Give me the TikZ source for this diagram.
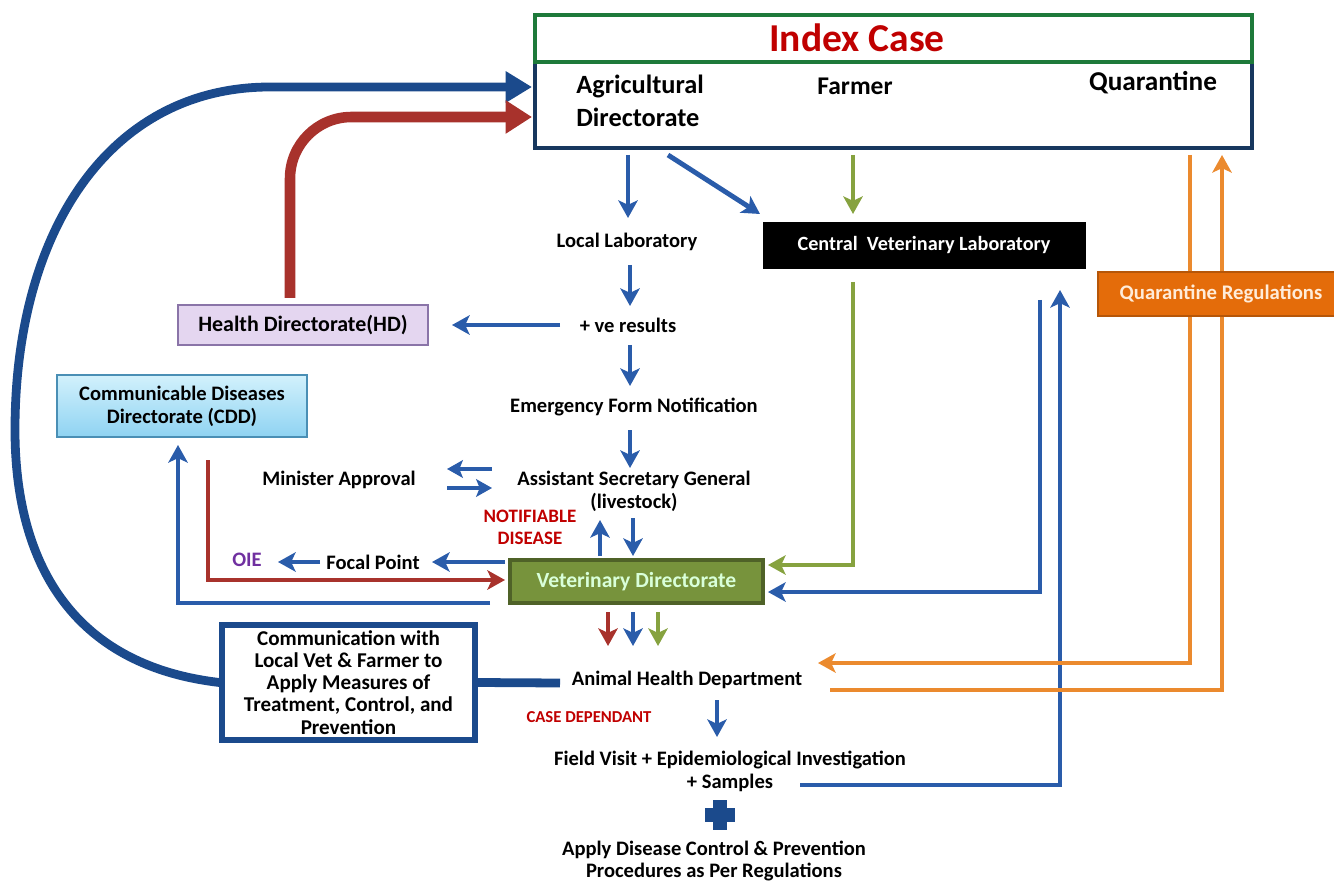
\documentclass[tikz,border=0pt]{standalone}
\usepackage{fontspec}
\setmainfont{Carlito}
\usetikzlibrary{arrows.meta}
\definecolor{cblue}{HTML}{2A5CAA}
\definecolor{cnavy}{HTML}{1B4A8C}
\definecolor{cred}{HTML}{A8322C}
\definecolor{tred}{HTML}{C00000}
\definecolor{cgreen}{HTML}{86A23F}
\definecolor{vdfill}{HTML}{77933C}
\definecolor{vddraw}{HTML}{4F6228}
\definecolor{corange}{HTML}{EB8A2E}
\definecolor{qrfill}{HTML}{E46C0A}
\definecolor{hdfill}{HTML}{E4D6F0}
\definecolor{hddraw}{HTML}{8A74A8}
\definecolor{cddtop}{HTML}{D2F1FC}
\definecolor{cddbot}{HTML}{8FD3F2}
\definecolor{cdddraw}{HTML}{4A8FB5}
\definecolor{idxgreen}{HTML}{1E7A3A}
\definecolor{idxnavy}{HTML}{17375E}
\definecolor{oiepurple}{HTML}{7030A0}
\begin{document}
\begin{tikzpicture}[x=0.02cm,y=-0.02cm,
  lbl/.style={font=\fontsize{11.7}{13}\selectfont\bfseries, align=center, inner sep=1pt},
  redlbl/.style={font=\fontsize{9.5}{12.5}\selectfont\bfseries, align=center, text=tred, inner sep=1pt},
  tip/.style={-{Stealth[length=10pt,width=11pt,inset=2.5pt]}},
  barr/.style={cblue, line width=2.8pt, tip},
  garr/.style={cgreen, line width=2.8pt, tip},
  rarr/.style={cred, line width=2.8pt, tip},
  oarr/.style={corange, line width=2.8pt, tip},
  boxlbl/.style={font=\fontsize{11.7}{13}\selectfont\bfseries, align=center, inner sep=2pt}
]
\useasboundingbox (0,0) rectangle (1334,881);

% ---------- Index case ----------
\node[draw=idxnavy, line width=2.5pt, fill=white, minimum width=14.34cm, minimum height=1.72cm, inner sep=0pt] (idx) at (893.5,105) {};
\node[draw=idxgreen, line width=2.5pt, fill=white, minimum width=14.34cm, minimum height=0.94cm, inner sep=0pt] (idxh) at (893.5,38.5) {};
\node[font=\fontsize{22.5}{24}\selectfont\bfseries, text=tred] (ic) at (857,38) {Index Case};
\node[font=\fontsize{15}{18.7}\selectfont\bfseries, align=left, anchor=west, inner sep=0pt] (agr) at (576,101) {Agricultural\\Directorate};
\node[font=\fontsize{14.5}{16}\selectfont\bfseries, inner sep=0pt] (farm) at (855,86) {Farmer};
\node[font=\fontsize{15.5}{16}\selectfont\bfseries, inner sep=0pt] (quar) at (1153,83) {Quarantine};

% ---------- Text labels ----------
\node[lbl] (ll) at (627,242) {Local Laboratory};
\node[lbl] (ve) at (628,325) {+ ve results};
\node[lbl] (efn) at (634,407) {Emergency Form Notification};
\node[lbl] (asg) at (634,491) {Assistant Secretary General\\(livestock)};
\node[lbl] (min) at (339,480) {Minister Approval};
\node[redlbl, font=\fontsize{10.8}{12.5}\selectfont\bfseries] (nd) at (530,527) {NOTIFIABLE\\DISEASE};
\node[lbl] (fp) at (373,562) {Focal Point};
\node[lbl, text=oiepurple] (oie) at (247,560) {OIE};
\node[lbl] (ahd) at (687,680) {Animal Health Department};
\node[redlbl] (cd) at (589,717) {CASE DEPENDANT};
\node[lbl] (fv) at (730,771) {Field Visit + Epidemiological Investigation\\+ Samples};
\node[lbl] (ap) at (714,861) {Apply Disease Control \& Prevention\\Procedures as Per Regulations};

% ---------- Boxes ----------
\node[draw=black, fill=black, text=white, font=\fontsize{11.5}{12}\selectfont\bfseries, minimum width=6.44cm, minimum height=0.92cm] (cvl) at (924,245) {Central\ \ Veterinary Laboratory};
\node[boxlbl, font=\fontsize{12.5}{13}\selectfont\bfseries, draw=hddraw, line width=1pt, fill=hdfill, minimum width=5cm, minimum height=0.8cm] (hd) at (303,325) {Health Directorate(HD)};
\node[boxlbl, draw=cdddraw, line width=1pt, top color=cddtop, bottom color=cddbot, minimum width=5cm, minimum height=1.24cm] (cdd) at (182,406) {Communicable Diseases\\Directorate (CDD)};
\node[boxlbl, font=\fontsize{12.3}{13}\selectfont\bfseries, draw=vddraw, line width=2pt, fill=vdfill, text=white!85!green, minimum width=5.06cm, minimum height=0.86cm] (vd) at (636.5,581.5) {Veterinary Directorate};

% ---------- Arrows from index case ----------
\draw[barr] (628,155) -- (628,218);
\draw[barr] (668,155) -- (760,214);
\draw[garr] (853,155) -- (853,214);

% ---------- Main vertical chain ----------
\draw[barr] (630,265) -- (630,306);
\draw[barr] (560,325) -- (452,325);
\draw[barr] (630,345) -- (630,386);
\draw[barr] (630,430) -- (630,468);
\draw[cblue, line width=2.6pt, -{Stealth[length=9pt,width=10pt,inset=2pt]}] (492,469) -- (447,469);
\draw[cblue, line width=2.6pt, -{Stealth[length=9pt,width=10pt,inset=2pt]}] (447,488) -- (492,488);
\draw[barr] (600,556) -- (600,520);
\draw[barr] (633,518) -- (633,556);
\draw[barr] (505,562) -- (432,562);
\draw[barr] (320,562) -- (278,562);

% ---------- CDD connections ----------
\draw[barr, line join=miter] (490,603) -- (178,603) -- (178,445);
\draw[rarr, line join=miter] (208,460) -- (208,580) -- (505,580);

% ---------- From CVL / samples ----------
\draw[garr, line join=miter] (853,282) -- (853,565) -- (768,565);
\draw[barr, line join=miter] (1040,300) -- (1040,592) -- (768,592);
\draw[barr, line join=miter] (800,785) -- (1060,785) -- (1060,290);

% ---------- Quarantine ----------
\draw[oarr, line join=miter] (1190,155) -- (1190,663) -- (818,663);
\draw[oarr, line join=miter] (830,690) -- (1222,690) -- (1222,155);
\node[draw=qrfill!80!black, line width=1.5pt, fill=qrfill, text=white!85!orange, font=\fontsize{11.8}{12}\selectfont\bfseries, minimum width=4.92cm, minimum height=0.88cm] (qr) at (1221,294) {Quarantine Regulations};

% ---------- Below VD ----------
\draw[rarr] (608,612) -- (608,646);
\draw[barr] (633,612) -- (633,646);
\draw[garr] (658,612) -- (658,646);
\draw[barr] (717,700) -- (717,737);

% plus sign
\fill[cnavy] (713,800) rectangle (727,830);
\fill[cnavy] (705,808) rectangle (735,822);

% ---------- Communication box ----------
\node[boxlbl, draw=cnavy, line width=3pt, fill=white, minimum width=5.06cm, minimum height=2.3cm, font=\fontsize{12}{12.6}\selectfont\bfseries] (comm) at (348.5,682.5) {Communication with\\Local Vet \& Farmer to\\Apply Measures of\\Treatment, Control, and\\Prevention};
\draw[cnavy, line width=5pt] (560,683) -- (comm.east);
\draw[cnavy, line width=5pt, -{Triangle[length=15pt,width=17pt]}] (comm.west) .. controls (70,665) and (15,560) .. (15,430) .. controls (15,230) and (110,87) .. (270,87) -- (532,87);
\draw[cred, line width=6pt, rounded corners=35pt, -{Triangle[length=15pt,width=18pt]}] (290,298) -- (290,117) -- (532,117);
\end{tikzpicture}
\end{document}
